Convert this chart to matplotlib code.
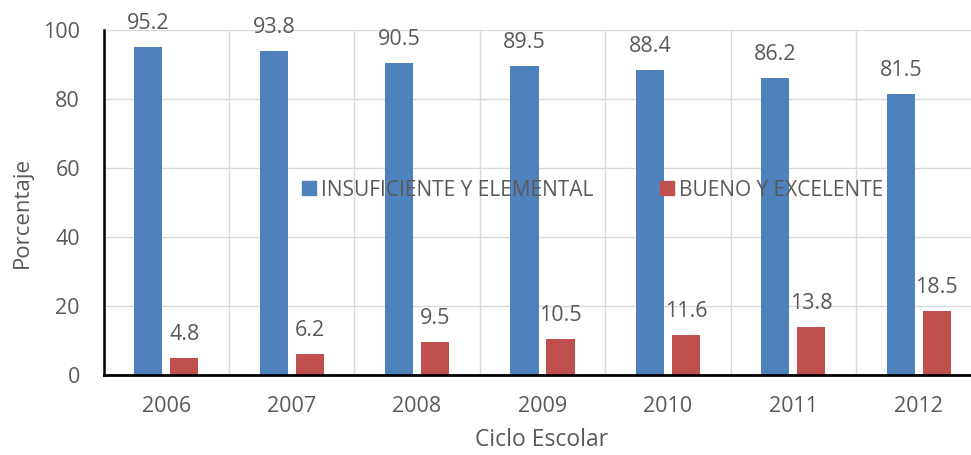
import matplotlib
matplotlib.use("Agg")
import matplotlib.pyplot as plt
import numpy as np
from matplotlib.lines import Line2D

years = ["2006", "2007", "2008", "2009", "2010", "2011", "2012"]
insuficiente = [95.2, 93.8, 90.5, 89.5, 88.4, 86.2, 81.5]
bueno = [4.8, 6.2, 9.5, 10.5, 11.6, 13.8, 18.5]
series_names = ["INSUFICIENTE Y ELEMENTAL", "BUENO Y EXCELENTE"]
yticks = [0, 20, 40, 60, 80, 100]

plt.rcParams['font.family'] = ['Open Sans', 'DejaVu Sans']
gray = '#595959'
blue = '#4f81bd'
red = '#c0504d'
fs = 15.5

W, H = 971, 455
fig = plt.figure(figsize=(W/100, H/100), dpi=100)
left, right, top, bottom = 103.6, 981.4, 30, 375
ax = fig.add_axes([left/W, (H-bottom)/H, (right-left)/W, (bottom-top)/H])

x = np.arange(len(years))
bw = 0.225
off = 0.143
b1 = ax.bar(x - off, insuficiente, bw, color=blue, zorder=3)
b2 = ax.bar(x + off, bueno, bw, color=red, zorder=3)

for bars, vals in ((b1, insuficiente), (b2, bueno)):
    for r, v in zip(bars, vals):
        ax.annotate(f"{v}", (r.get_x() + r.get_width()/2, v), xytext=(0, 13),
                    textcoords='offset points', ha='center', va='baseline',
                    fontsize=fs, color=gray, zorder=4, annotation_clip=False)

ax.set_xlim(-0.5, len(years) - 0.5)
ax.set_ylim(0, 100)
ax.set_yticks(yticks)
ax.set_xticks(x)
ax.set_xticklabels(years)
ax.set_xticks(np.arange(len(years) + 1) - 0.5, minor=True)
ax.tick_params(axis='both', which='both', length=0, labelsize=fs, colors=gray)
ax.tick_params(axis='x', pad=15)
ax.tick_params(axis='y', pad=17)
ax.yaxis.grid(True, color='#d9d9d9', lw=1, zorder=0)
ax.xaxis.grid(True, which='minor', color='#d9d9d9', lw=1, zorder=0)
ax.xaxis.grid(False, which='major')
for s in ('top', 'right'):
    ax.spines[s].set_visible(False)
ax.spines['left'].set_color('black')
ax.spines['left'].set_linewidth(1.8)
ax.spines['bottom'].set_color('black')
ax.spines['bottom'].set_linewidth(2)
ax.spines['left'].set_zorder(5)
ax.spines['bottom'].set_zorder(5)

fig.text(22/W, 1 - 212/H, "Porcentaje", rotation=90, ha='center', va='center',
         fontsize=16, color=gray)
fig.text(542/W, 1 - 440/H, "Ciclo Escolar", ha='center', va='center',
         fontsize=16.5, color=gray)

handles = [Line2D([], [], marker='s', ls='none', color=blue, markersize=10),
           Line2D([], [], marker='s', ls='none', color=red, markersize=10)]
leg = fig.legend(handles, series_names, loc='center', bbox_to_anchor=(591/W, 1 - 190/H),
                 ncol=2, frameon=False, fontsize=15, handletextpad=0.1,
                 columnspacing=3.0, handlelength=1.0, labelcolor=gray)

fig.savefig("out.png", dpi=100)
